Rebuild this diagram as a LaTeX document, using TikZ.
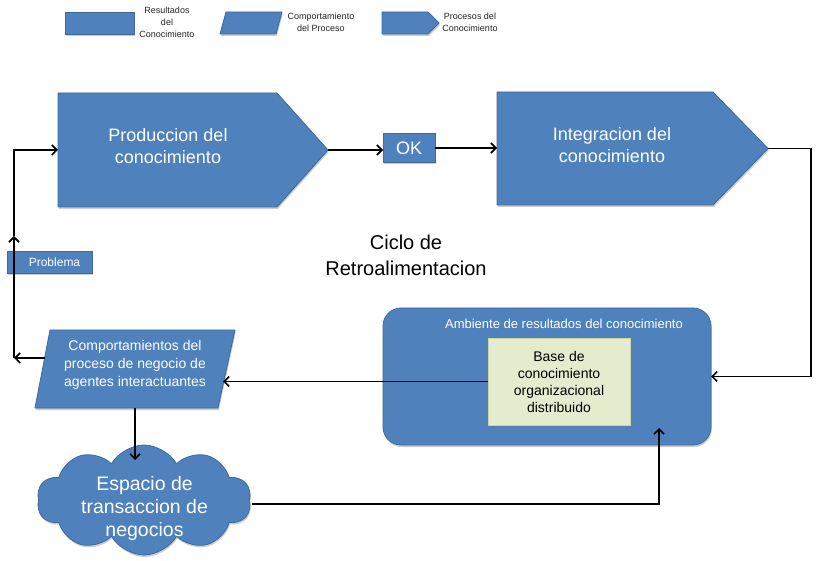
\documentclass[tikz,border=0pt]{standalone}
\usepackage{fontspec}
\setmainfont{Liberation Sans}
\usetikzlibrary{shapes.symbols,shadows,calc,arrows.meta}
\definecolor{kblue}{HTML}{4F81BD}
\definecolor{kborder}{HTML}{3E6A9E}
\definecolor{kgreen}{HTML}{E4ECCD}
\definecolor{kgreenb}{HTML}{C9D6A8}
\begin{document}
\begin{tikzpicture}[x=1pt,y=-1pt,
  bluefill/.style={fill=kblue, draw=kborder, line width=0.8pt,
    drop shadow={shadow xshift=0.8pt, shadow yshift=-2pt, opacity=0.4}},
  box/.style 2 args={inner sep=0pt, outer sep=0pt, minimum width=#1, minimum height=#2},
  wtxt/.style={align=center, text=white, inner sep=0pt},
  ktxt/.style={align=center, text=black, inner sep=0pt},
  legtxt/.style={align=center, text=black!85, inner sep=0pt, font=\fontsize{9}{12}\selectfont},
  arr/.style={-{Straight Barb[length=5pt,width=10pt,line width=1.6pt]}, line width=1.9pt, black}]
\useasboundingbox (0,0) rectangle (817,561);
\fill[white] (0,0) rectangle (817,561);

% ---------- legend ----------
\node[box={69pt}{22pt}, bluefill] (lg1) at (99.5,23) {};
\node[legtxt] (lt1) at (167,22) {Resultados\\del\\Conocimiento};
\node[box={56pt}{22pt}] (lg2) at (251,23) {};
\path[bluefill] (226,12) -- (282,12) -- (276,34) -- (220,34) -- cycle;
\node[legtxt] (lt2) at (321,22) {Comportamiento\\del Proceso};
\node[box={46pt}{22pt}] (lg3) at (405,23) {};
\path[bluefill] (lg3.north west) -- (lg3.north east) -- ++(11,11) -- (lg3.south east) -- (lg3.south west) -- cycle;
\node[legtxt] (lt3) at (470,22) {Procesos del\\Conocimiento};

% ---------- process shapes ----------
\node[box={219pt}{114pt}] (prod) at (167.5,150) {};
\path[bluefill] (prod.north west) -- (prod.north east) -- ++(51,57) -- (prod.south east) -- (prod.south west) -- cycle;
\coordinate (prodtip) at ($(prod.east)+(51,0)$);
\node[wtxt, font=\fontsize{18}{22}\selectfont] (prodtxt) at (168,146) {Produccion del\\conocimiento};

\node[box={52pt}{29pt}, bluefill, wtxt, font=\fontsize{18}{22}\selectfont] (ok) at (409,148) {OK};

\node[box={216pt}{113pt}] (integ) at (605,148.5) {};
\path[bluefill] (integ.north west) -- (integ.north east) -- ++(55,56.5) -- (integ.south east) -- (integ.south west) -- cycle;
\coordinate (integtip) at ($(integ.east)+(55,0)$);
\node[wtxt, font=\fontsize{18}{22}\selectfont] (integtxt) at (612,145) {Integracion del\\conocimiento};

% ---------- cycle label ----------
\node[ktxt, font=\fontsize{20}{26}\selectfont] (ciclo) at (406,255) {Ciclo de\\Retroalimentacion};

% ---------- problema ----------
\node[box={85pt}{22pt}, bluefill, wtxt, font=\fontsize{12}{14}\selectfont] (prob) at (49.5,262) {\hspace*{10pt}Problema};

% ---------- ambiente ----------
\node[box={328pt}{137pt}, bluefill, rounded corners=18pt] (amb) at (547,376.5) {};
\node[wtxt, font=\fontsize{13}{16}\selectfont] (ambtxt) at (564,324) {Ambiente de resultados del conocimiento};
\node[box={142pt}{87pt}, fill=kgreen, draw=kgreenb, line width=0.6pt, ktxt,
  font=\fontsize{14}{17}\selectfont,
  drop shadow={shadow xshift=0.8pt, shadow yshift=-1.5pt, opacity=0.3}] (base) at (559,381.5)
  {Base de\\conocimiento\\organizacional\\distribuido};

% ---------- comportamientos ----------
\node[box={170pt}{78pt}] (comp) at (135,369) {};
\path[bluefill] (50,330) -- (235,330) -- (218,408) -- (35,408) -- cycle;
\node[wtxt, font=\fontsize{14}{18}\selectfont] (comptxt) at (135,365) {Comportamientos del\\proceso de negocio de\\agentes interactuantes};

% ---------- cloud ----------
\node[cloud, cloud puffs=10, cloud puff arc=120, aspect=1.9, box={214pt}{110pt}, bluefill] (cloud) at (144,500) {};
\node[wtxt, font=\fontsize{19.5}{23}\selectfont] (cloudtxt) at (144.5,508) {Espacio de\\transaccion de\\negocios};

% ---------- connectors ----------
\coordinate (rc) at (811,148.5);
\coordinate (compR) at (223,381.5);
\coordinate (compL) at (45,358);
\coordinate (lc) at (14,358);
\coordinate (upA) at (14,236);
\coordinate (cloudIn) at (135,460);
\coordinate (cr) at (252,504);
\coordinate (ambIn) at (659,428);

\draw[arr] (prodtip) -- (prodtip -| ok.west);
\draw[arr] (ok.east) -- (ok.east -| integ.west);
\draw[arr] (integtip) -- (rc) |- (amb.east);
\draw[arr] (base.west) -- (compR);
\draw[arr] (compL) -- (lc);
\draw[arr] (lc) -- (upA);
\draw[arr] (upA) |- (prod.west);
\draw[arr] (comp.south) -- (cloudIn);
\draw[arr] (cr) -| (ambIn);
\end{tikzpicture}
\end{document}
